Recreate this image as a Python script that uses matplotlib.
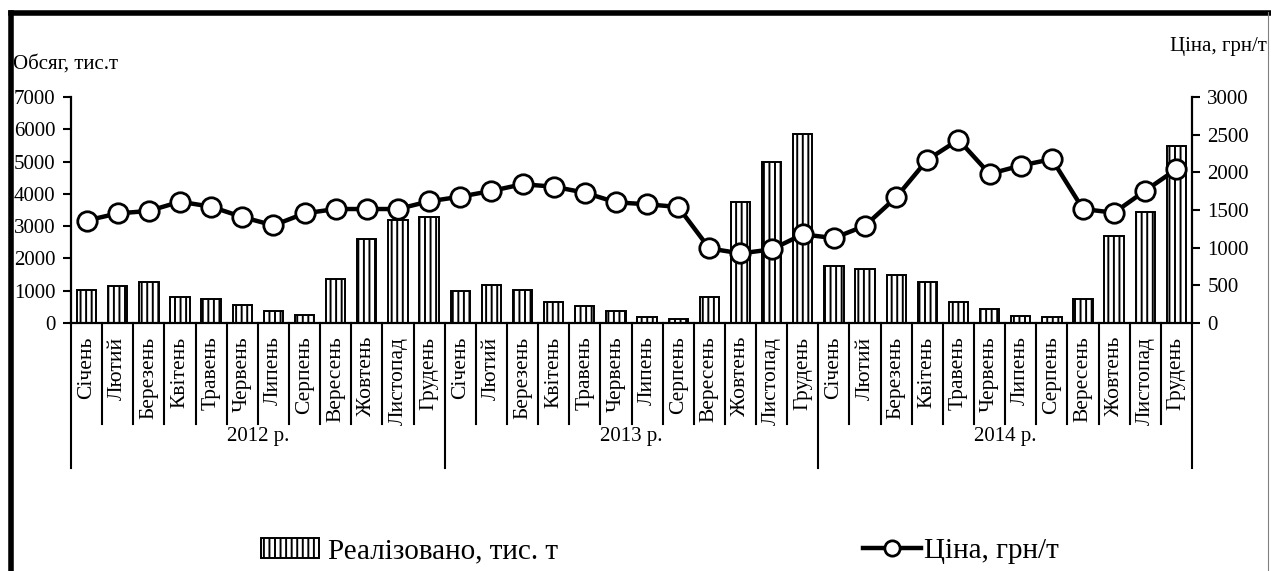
import numpy as np
import matplotlib
matplotlib.use("Agg")
import matplotlib.pyplot as plt
from matplotlib.lines import Line2D
from matplotlib.patches import Patch

plt.rcParams["font.family"] = ["Liberation Serif", "DejaVu Serif"]
plt.rcParams["hatch.linewidth"] = 1.4

# Data
months = ["Січень", "Лютий", "Березень", "Квітень", "Травень", "Червень",
          "Липень", "Серпень", "Вересень", "Жовтень", "Листопад", "Грудень"]
years = ["2012 р.", "2013 р.", "2014 р."]

volume_2012 = [1010, 1140, 1260, 790, 730, 560, 360, 260, 1350, 2590, 3190, 3290]
volume_2013 = [990, 1170, 1010, 650, 520, 360, 190, 120, 790, 3760, 4990, 5860]
volume_2014 = [1770, 1660, 1490, 1260, 640, 420, 210, 180, 740, 2700, 3440, 5490]

price_2012 = [1360, 1455, 1487, 1610, 1544, 1407, 1296, 1455, 1513, 1513, 1513, 1615]
price_2013 = [1677, 1753, 1842, 1810, 1730, 1602, 1576, 1540, 990, 924, 977, 1177]
price_2014 = [1127, 1291, 1669, 2166, 2432, 1979, 2090, 2175, 1513, 1464, 1757, 2042]

volume = np.array(volume_2012 + volume_2013 + volume_2014)
price = np.array(price_2012 + price_2013 + price_2014)
n = len(volume)
x = np.arange(n)

W, H = 1271, 571
fig = plt.figure(figsize=(W / 100, H / 100), dpi=100)
ax = fig.add_axes([71 / W, 1 - 323 / H, (1192 - 71) / W, (323 - 97) / H])
ax2 = ax.twinx()

# Bars (volume)
ax.bar(x, volume, width=0.62, color="white", edgecolor="black",
       linewidth=1.4, hatch="|||", zorder=2)
ax.set_xlim(-0.5, n - 0.5)
ax.set_ylim(0, 7000)
ax.set_yticks(np.arange(0, 7001, 1000))
ax.set_xticks([])

# Line (price)
ax2.plot(x, price, color="black", linewidth=3.2, marker="o", markersize=14,
         markerfacecolor="white", markeredgecolor="black", markeredgewidth=2,
         zorder=3)
ax2.set_ylim(0, 3000)
ax2.set_yticks(np.arange(0, 3001, 500))

for a in (ax, ax2):
    a.spines["top"].set_visible(False)
    a.tick_params(axis="y", direction="out", length=6, width=1.5,
                  labelsize=15, pad=5)
    for s in a.spines.values():
        s.set_linewidth(1.6)
ax.spines["right"].set_visible(False)
ax2.spines["left"].set_visible(False)
ax2.spines["bottom"].set_visible(False)

# Category axis: month labels, separators, year labels
trans = ax.get_xaxis_transform()
for i in range(n + 1):
    b = i - 0.5
    depth = -0.642 if i % 12 == 0 else -0.447
    ax.plot([b, b], [0, depth], color="black", linewidth=1.5,
            transform=trans, clip_on=False)
for i in range(n):
    ax.text(x[i], -0.06, months[i % 12], rotation=90, ha="center", va="top",
            fontsize=15.5, transform=trans)
for k, yr in enumerate(years):
    ax.text(12 * k + 5.5, -0.504, yr, ha="center", va="center",
            fontsize=15, transform=trans)

# Axis titles
fig.text(13 / W, 1 - 64 / H, "Обсяг, тис.т", ha="left", va="center", fontsize=15)
fig.text(1267 / W, 1 - 47 / H, "Ціна, грн/т", ha="right", va="center", fontsize=15)

# Legends
bar_handle = Patch(facecolor="white", edgecolor="black", hatch="|||", linewidth=1.4)
line_handle = Line2D([], [], color="black", linewidth=3.2, marker="o",
                     markersize=11, markerfacecolor="white",
                     markeredgecolor="black", markeredgewidth=2)
fig.legend([bar_handle], ["Реалізовано, тис. т"], loc="center left",
           bbox_to_anchor=(246 / W, 1 - 551 / H), frameon=False, fontsize=21,
           handlelength=2.0, handleheight=0.7, handletextpad=0.3, borderpad=0)
fig.legend([line_handle], ["Ціна, грн/т"], loc="center left",
           bbox_to_anchor=(848 / W, 1 - 551 / H), frameon=False, fontsize=21,
           handlelength=2.0, handletextpad=0.1, borderpad=0)

# Frame around the chart
fig.add_artist(Line2D([10.5 / W, 1], [1 - 12.5 / H, 1 - 12.5 / H],
                      color="black", linewidth=4, transform=fig.transFigure))
fig.add_artist(Line2D([10.5 / W, 10.5 / W], [0, 1 - 12.5 / H],
                      color="black", linewidth=4, transform=fig.transFigure))
fig.add_artist(Line2D([1268 / W, 1268 / W], [0, 1 - 12 / H],
                      color="gray", linewidth=0.8, transform=fig.transFigure))

fig.savefig("out.png", dpi=100)
